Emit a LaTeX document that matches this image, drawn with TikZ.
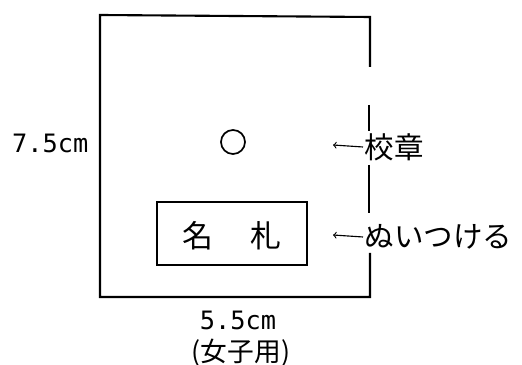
\documentclass[tikz,border=0pt]{standalone}
\usepackage{fontspec}
\setmonofont{DejaVu Sans Mono}
\newfontfamily\jp{Noto Sans CJK JP}

\tikzset{
	sizelabel/.style={font=\ttfamily\fontsize{18}{18}\selectfont, inner sep=1pt},
	notelabel/.style={font=\jp\fontsize{21}{21}\selectfont, anchor=west, inner sep=1pt},
	outline/.style={line width=1.5pt},
}

\begin{document}
\begin{tikzpicture}[x=0.025cm, y=-0.025cm]
	\useasboundingbox (0, 0) rectangle (522, 365);
	% outer sheet, right side broken by the notes
	\draw[outline] (370, 67) -- (370, 17) -- (100, 15) -- (100, 297) -- (370, 297) -- (370, 253);
	\draw[line width=1.1pt] (369, 105) -- (369, 131);
	\draw[line width=1.1pt] (369, 165) -- (369, 213);
	% badge and name tag
	\draw[line width=1.2pt] (233, 142) circle (0.3cm);
	\draw[outline] (157, 202) rectangle (307, 265);
	\node (fuda) at (232, 236) {\jp\fontsize{22}{22}\selectfont 名\hspace{1.2em}札};
	% sizes
	\node[sizelabel, anchor=east] (tate) at (90, 143) {7.5cm};
	\node[sizelabel] (yoko) at (238, 320) {5.5cm};
	\node[font=\jp\fontsize{19}{19}\selectfont, inner sep=1pt] (joshi) at (241, 353) {(女子用)};
	% notes
	\node[notelabel] (kosho) at (363, 147) {校章};
	\node[notelabel] (nuitsuke) at (363, 237) {ぬいつける};
	\coordinate (k0) at (333, 145);
	\coordinate (n0) at (333, 235);
	\draw[<-, line width=0.8pt] (k0) -- (kosho.west);
	\draw[<-, line width=0.8pt] (n0) -- (nuitsuke.west);
\end{tikzpicture}
\end{document}
